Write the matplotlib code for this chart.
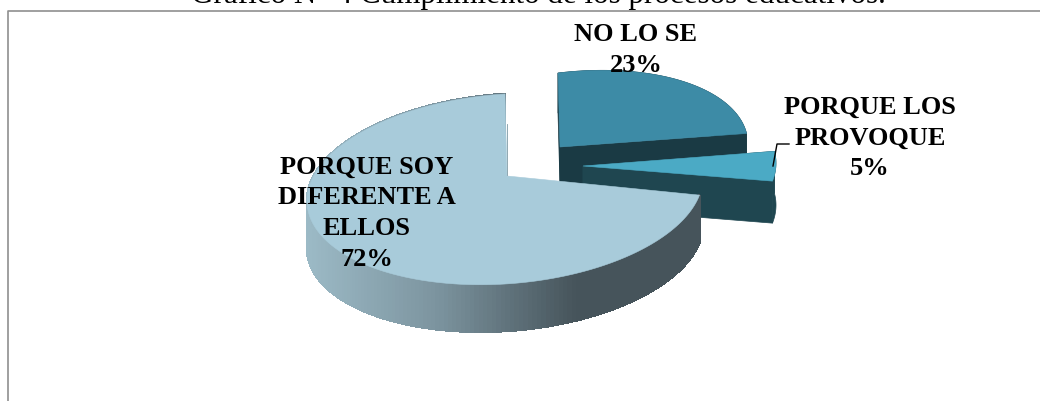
import matplotlib
matplotlib.use("Agg")
import matplotlib.pyplot as plt
import numpy as np
from matplotlib.colors import LinearSegmentedColormap
from matplotlib.patches import Polygon

labels = ["NO LO SE", "PORQUE LOS\nPROVOQUE", "PORQUE SOY\nDIFERENTE A\nELLOS"]
values = [23, 5, 72]
title = "Gráfico N° 4 Cumplimiento de los procesos educativos."

top_colors = ["#3D8BA6", "#4BAAC5", "#A8CBDA"]
side_colors = ["#1A3A44", "#1F4650", None]

plt.rcParams['font.family'] = ['Liberation Serif', 'DejaVu Serif']

fig = plt.figure(figsize=(10.4, 4.02), dpi=100)
ax = fig.add_axes([0, 0, 1, 1])
ax.set_xlim(0, 1040)
ax.set_ylim(402, 0)
ax.axis('off')

# chart frame, only top and left show in the crop
ax.plot([8, 8, 1040], [402, 12, 12], color="#8f8f8f", lw=1.2)
ax.text(538, 2.5, title, ha='center', va='baseline', fontsize=22.4)

# fake 3d pie: ellipse in pixel space, one tip and offset per slice
rx, ry = 198, 95
cx, cy = 505, 190
shear = 0.06
depth = [40, 42, 47]
offset = [(53, -21), (73, -14), (0, 0)]
extra_shear = [0.06, 0, 0]
scale = [0.96, 1, 1]
tip = [(560, 148), (583, 167), (507, 177)]

shade = LinearSegmentedColormap.from_list(
    "side", [(0, "#9CBAC6"), (0.33, "#7C949F"), (0.68, "#46545B"), (1, "#46545B")])


def rim(t, i):
    x = cx + rx * scale[i] * np.sin(t)
    y = cy - ry * np.cos(t) - (shear + extra_shear[i]) * (x - cx)
    return x + offset[i][0], y + offset[i][1]


ends = np.cumsum(values) / np.sum(values) * 2 * np.pi
starts = np.r_[0, ends[:-1]]

for i in range(len(values)):
    t = np.linspace(starts[i], ends[i], 200)
    x, y = rim(t, i)
    d = depth[i]
    if side_colors[i] is not None:
        # cut wall and outer wall of the exploded slices
        wall = [(tip[i][0], tip[i][1]), (x[-1], y[-1]), (x[-1], y[-1] + d), (tip[i][0], tip[i][1] + d)]
        ax.add_patch(Polygon(wall, fc=side_colors[i], ec=side_colors[i], lw=0.5))
        wall2 = [(tip[i][0], tip[i][1]), (x[0], y[0]), (x[0], y[0] + d), (tip[i][0], tip[i][1] + d)]
        ax.add_patch(Polygon(wall2, fc=side_colors[i], ec=side_colors[i], lw=0.5))
        outer = np.r_[np.c_[x, y], np.c_[x[::-1], y[::-1] + d]]
        ax.add_patch(Polygon(outer, fc=side_colors[i], ec=side_colors[i], lw=0.5))
    else:
        # big slice has a shaded wall, drawn in thin strips
        for a, b in zip(range(0, 199), range(1, 200)):
            c = shade(np.clip((x[a] - 305) / 400, 0, 1))
            strip = [(x[a], y[a]), (x[b], y[b]), (x[b], y[b] + d), (x[a], y[a] + d)]
            ax.add_patch(Polygon(strip, fc=c, ec=c, lw=1.2, antialiased=False))
    face = np.r_[[tip[i]], np.c_[x, y]]
    ax.add_patch(Polygon(face, fc=top_colors[i], ec=top_colors[i], lw=0.4))

# thin inner edge of the big slice
ax.plot([507, 507], [125, 176], color="#7F9AA5", lw=0.6)

# leader line of the small slice
ax.plot([773, 777, 789], [167, 145, 145], color="black", lw=1)

label_pos = [(636, 50), (870, 138), (367, 213)]
for name, v, (lx, ly) in zip(labels, values, label_pos):
    ax.text(lx, ly, f"{name}\n{v}%", ha='center', va='center', fontsize=19,
            fontweight='bold', linespacing=1.43, color="black")

fig.savefig("out.png", dpi=100)
